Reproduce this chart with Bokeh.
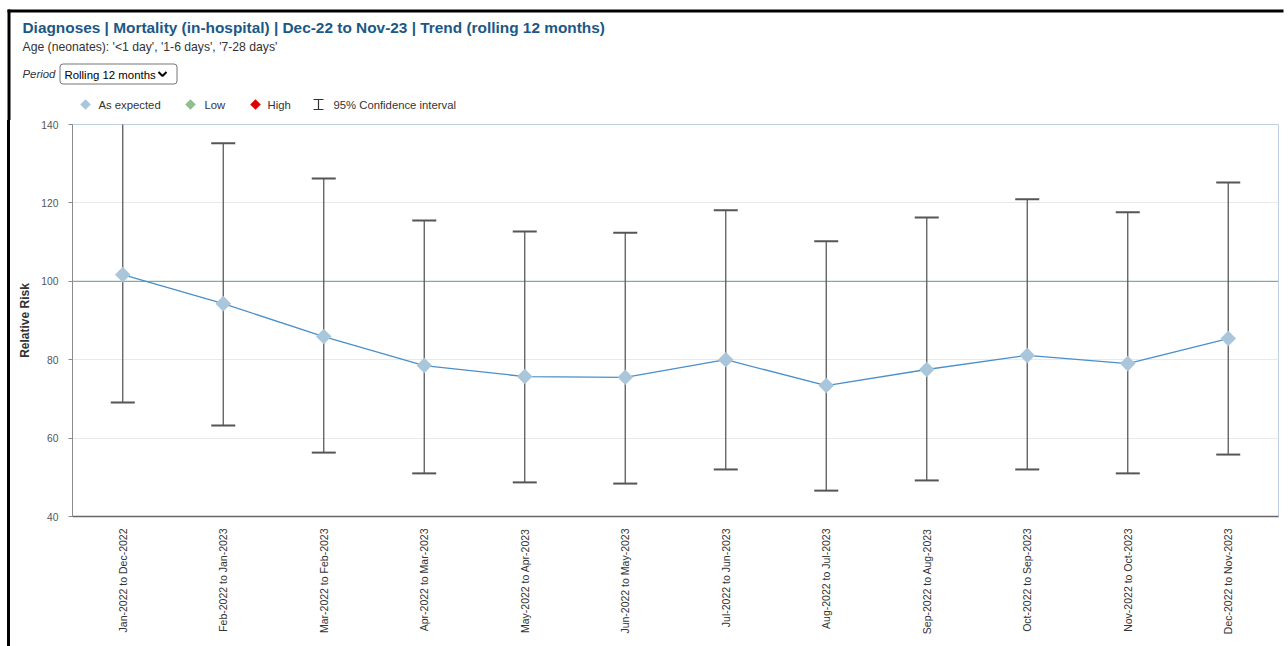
import math

from bokeh.core.properties import value
from bokeh.embed import file_html
from bokeh.layouts import column, row
from bokeh.models import ColumnDataSource, FactorRange, FixedTicker, Range1d, Span, Spacer
from bokeh.plotting import figure
from bokeh.resources import INLINE

# ---- data -----------------------------------------------------------------
periods = [
    "Jan-2022 to Dec-2022", "Feb-2022 to Jan-2023", "Mar-2022 to Feb-2023",
    "Apr-2022 to Mar-2023", "May-2022 to Apr-2023", "Jun-2022 to May-2023",
    "Jul-2022 to Jun-2023", "Aug-2022 to Jul-2023", "Sep-2022 to Aug-2023",
    "Oct-2022 to Sep-2023", "Nov-2022 to Oct-2023", "Dec-2022 to Nov-2023",
]
relative_risk = [101.7, 94.3, 85.9, 78.5, 75.7, 75.5, 80.0, 73.4, 77.5, 81.1, 79.0, 85.4]
ci_lower = [69.1, 63.2, 56.3, 51.0, 48.7, 48.4, 52.0, 46.6, 49.2, 52.0, 51.0, 55.8]
ci_upper = [146.0, 135.2, 126.2, 115.5, 112.7, 112.4, 118.1, 110.2, 116.3, 120.9, 117.6, 125.2]
y_ticks = [40, 60, 80, 100, 120, 140]
expected_level = 100

title_text = "Diagnoses | Mortality (in-hospital) | Dec-22 to Nov-23 | Trend (rolling 12 months)"
subtitle_text = "Age (neonates): '<1 day', '1-6 days', '7-28 days'"
legend_labels = ["As expected", "Low", "High", "95% Confidence interval"]
legend_colors = ["#aac6da", "#8fbf8f", "#e00000"]

FONT = "Liberation Sans"
TITLE_BLUE = "#1b5885"
TEXT_GREY = "#333333"

# ---- header: title, subtitle, period selector, legend --------------------
hdr = figure(width=1288, height=120, x_range=Range1d(0, 1288), y_range=Range1d(120, 0),
             x_axis_type=None, y_axis_type=None, output_backend="svg",
             toolbar_location=None, min_border=0)
hdr.outline_line_color = None

# page frame (top and left rules)
hdr.quad(left=[7, 7], right=[1283, 10], top=[9, 9], bottom=[12, 120],
         fill_color="black", line_color=None)

hdr.text(x=[22], y=[27], text=[title_text], text_font=value(FONT), text_font_size="15.4px",
         text_font_style="bold", text_color=TITLE_BLUE, text_baseline="middle")
hdr.text(x=[22], y=[46], text=[subtitle_text], text_font=value(FONT), text_font_size="12.2px",
         text_color=TEXT_GREY, text_baseline="middle")

# period selector
hdr.text(x=[22], y=[73], text=["Period"], text_font=value(FONT), text_font_size="11.4px",
         text_font_style="italic", text_color=TEXT_GREY, text_baseline="middle")
hdr.quad(left=[59.5], right=[176.5], top=[63.5], bottom=[83.5], fill_color="white",
         line_color="#767676", line_width=1, border_radius=3)
hdr.text(x=[64], y=[74], text=["Rolling 12 months"], text_font=value(FONT),
         text_font_size="11.4px", text_color="black", text_baseline="middle")
hdr.line(x=[158, 162, 166], y=[71.5, 75.5, 71.5], line_color="black", line_width=2)

# legend
hdr.scatter(x=[85, 190, 255], y=[104, 104, 104], marker="square", angle=math.pi / 4,
            size=7.5, fill_color=legend_colors, line_color=None)
hdr.segment(x0=[313, 313, 318], y0=[99, 109, 99], x1=[323, 323, 318], y1=[99, 109, 109],
            line_color=TEXT_GREY, line_width=1.2)
hdr.text(x=[98, 204, 267, 333], y=[104] * 4, text=legend_labels, text_font=value(FONT),
         text_font_size="11.3px", text_color=TEXT_GREY, text_baseline="middle")

# ---- left page rule beside the chart ---------------------------------------
gap_left = Spacer(width=7, height=526)
page_rule = Spacer(width=3, height=526, styles={"background-color": "black"})
gap_right = Spacer(width=1, height=526)

# ---- trend chart ------------------------------------------------------------
src = ColumnDataSource(dict(period=periods, rr=relative_risk, lo=ci_lower, hi=ci_upper))

p = figure(width=1277, height=526, x_range=FactorRange(*periods), y_range=Range1d(40, 140),
           output_backend="svg", toolbar_location=None,
           min_border_left=61, min_border_right=10, min_border_top=4, min_border_bottom=130)
p.outline_line_color = "#c0d0e0"
p.xgrid.grid_line_color = None
p.ygrid.grid_line_color = "#e9e9e9"
p.ygrid.ticker = FixedTicker(ticks=y_ticks)

p.add_layout(Span(location=expected_level, dimension="width", line_color="#5f9e98",
                  line_width=1, level="underlay"))

# confidence intervals
p.segment(x0="period", y0="lo", x1="period", y1="hi", source=src,
          line_color="#5a5a5a", line_width=1.3)
p.scatter(x="period", y="lo", source=src, marker="dash", size=24,
          line_color="#555555", line_width=2)
p.scatter(x="period", y="hi", source=src, marker="dash", size=24,
          line_color="#555555", line_width=2)

# relative risk trend
p.line(x="period", y="rr", source=src, line_color="#4a8fc9", line_width=1.3)
p.scatter(x="period", y="rr", source=src, marker="square", angle=math.pi / 4, size=11,
          fill_color=legend_colors[0], line_color=None)

# axes
p.yaxis.ticker = FixedTicker(ticks=y_ticks)
p.yaxis.axis_label = "Relative Risk"
p.yaxis.axis_label_text_font = FONT
p.yaxis.axis_label_text_font_size = "12px"
p.yaxis.axis_label_text_font_style = "bold"
p.yaxis.axis_label_text_color = TEXT_GREY
p.yaxis.axis_label_standoff = 6
p.yaxis.major_label_text_font = FONT
p.yaxis.major_label_text_font_size = "10.3px"
p.yaxis.major_label_text_color = "#555555"
p.yaxis.major_label_standoff = 10
p.yaxis.major_tick_out = 4
p.yaxis.major_tick_in = 0
p.yaxis.minor_tick_line_color = None
p.yaxis.axis_line_color = "#8a8a8a"
p.yaxis.major_tick_line_color = "#8a8a8a"

p.xaxis.major_label_orientation = math.pi / 2
p.xaxis.major_label_text_font = FONT
p.xaxis.major_label_text_font_size = "10.5px"
p.xaxis.major_label_text_color = TEXT_GREY
p.xaxis.major_label_standoff = 12
p.xaxis.major_tick_out = 0
p.xaxis.major_tick_in = 0
p.xaxis.major_tick_line_color = None
p.xaxis.axis_line_color = "#666666"
p.xaxis.axis_line_width = 1.5

layout = column(hdr, row(gap_left, page_rule, gap_right, p, spacing=0), spacing=0)

open("out.html", "w").write(file_html(layout, INLINE))
